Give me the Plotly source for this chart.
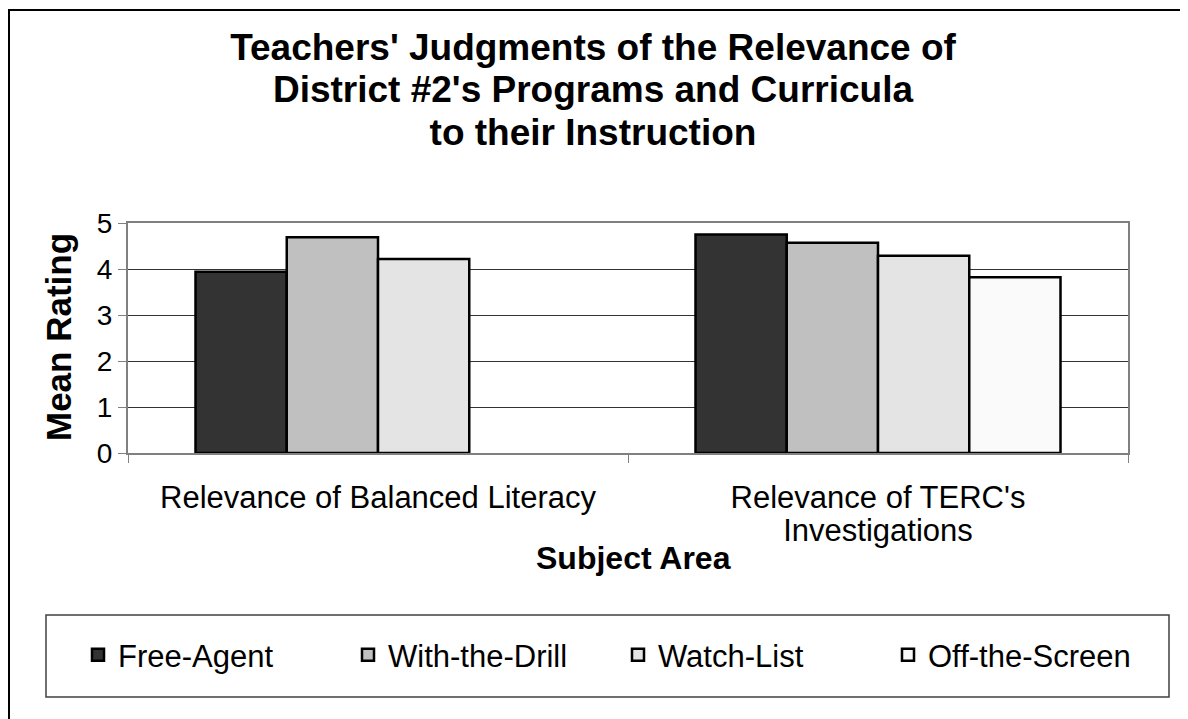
import plotly.graph_objects as go

# ---- data ----
categories = ["Relevance of Balanced Literacy", "Relevance of TERC's<br>Investigations"]
series_names = ["Free-Agent", "With-the-Drill", "Watch-List", "Off-the-Screen"]
free_agent = [3.94, 4.75]
with_the_drill = [4.69, 4.57]
watch_list = [4.22, 4.29]
off_the_screen = [None, 3.82]
series_values = [free_agent, with_the_drill, watch_list, off_the_screen]
series_colors = ["#333333", "#c0c0c0", "#e4e4e4", "#fafafa"]
y_ticks = [0, 1, 2, 3, 4, 5]
title_lines = ["Teachers' Judgments of the Relevance of",
               "District #2's Programs and Curricula",
               "to their Instruction"]
x_title = "Subject Area"
y_title = "Mean Rating"

FONT = "Liberation Sans, Arial, sans-serif"

# page offset of the figure inside the html body
OFF = 8
W, H = 1188, 719
# plot-area in reference pixel coordinates
L_ref, R_ref, T_ref, B_ref = 128, 1128, 223, 453
L, R, T, B = L_ref - OFF, R_ref - OFF, T_ref - OFF, B_ref - OFF


def px(x):
    return ((x - OFF) - L) / (R - L)


def py(y):
    return (B - (y - OFF)) / (B - T)


def big(text, size):
    # glyph size larger than the line pitch (tight line spacing as in the reference)
    return "<span style='font-size:%dpx'>%s</span>" % (size, text)


fig = go.Figure()
for name, vals, col in zip(series_names, series_values, series_colors):
    fig.add_trace(go.Bar(
        name=name, x=categories, y=vals,
        marker=dict(color=col, line=dict(color="black", width=2.5)),
    ))

title_text = "<br>".join(big("<b>" + t + "</b>", 37) for t in title_lines)
tick_text = ["<br>".join(big(part, 31) for part in c.split("<br>")) for c in categories]

fig.update_layout(
    width=W, height=H,
    margin=dict(l=L, r=W - R, t=T, b=H - B, autoexpand=False),
    paper_bgcolor="white", plot_bgcolor="white",
    barmode="group", bargap=0.27, bargroupgap=0,
    font=dict(family=FONT, color="black"),
    title=dict(text=title_text, xref="paper", x=px(593), xanchor="center",
               yref="container", y=1 - (60 - OFF) / H, yanchor="middle",
               font=dict(family=FONT, size=32.5, color="black")),
    showlegend=True,
    legend=dict(
        orientation="h", x=px(78), xanchor="left", y=py(655), yanchor="middle",
        font=dict(family=FONT, size=31, color="black"),
        bgcolor="rgba(0,0,0,0)", borderwidth=0,
        entrywidth=225, entrywidthmode="pixels", itemclick=False,
    ),
)

fig.update_yaxes(
    range=[0, 5], tickvals=y_ticks, ticks="outside", ticklen=8, tickcolor="#808080",
    tickfont=dict(family=FONT, size=28, color="black"),
    showgrid=True, gridcolor="#333333", gridwidth=1,
    showline=True, linecolor="#808080", linewidth=2, mirror=True,
    zeroline=False, fixedrange=True,
)
fig.update_xaxes(
    tickson="boundaries", ticks="outside", ticklen=8, tickcolor="#808080",
    tickmode="array", tickvals=categories, ticktext=tick_text,
    tickfont=dict(family=FONT, size=25, color="black"),
    ticklabelstandoff=23,
    showline=True, linecolor="#808080", linewidth=2, mirror=True,
    fixedrange=True,
)

# axis titles
fig.add_annotation(text="<b>" + y_title + "</b>", xref="paper", yref="paper",
                   x=px(58), y=py(337), xanchor="center", yanchor="middle", textangle=-90,
                   showarrow=False, font=dict(family=FONT, size=35, color="black"))
fig.add_annotation(text="<b>" + x_title + "</b>", xref="paper", yref="paper",
                   x=px(633), y=py(558), xanchor="center", yanchor="middle",
                   showarrow=False, font=dict(family=FONT, size=32, color="black"))

# outer chart border and legend box
fig.add_shape(type="rect", xref="paper", yref="paper",
              x0=px(9), x1=px(1205), y0=py(735), y1=py(10),
              line=dict(color="black", width=2), fillcolor="rgba(0,0,0,0)", layer="below")
fig.add_shape(type="rect", xref="paper", yref="paper",
              x0=px(46), x1=px(1169), y0=py(697), y1=py(615),
              line=dict(color="#404040", width=1.5), fillcolor="rgba(0,0,0,0)", layer="below")

fig.write_html("out.html")
